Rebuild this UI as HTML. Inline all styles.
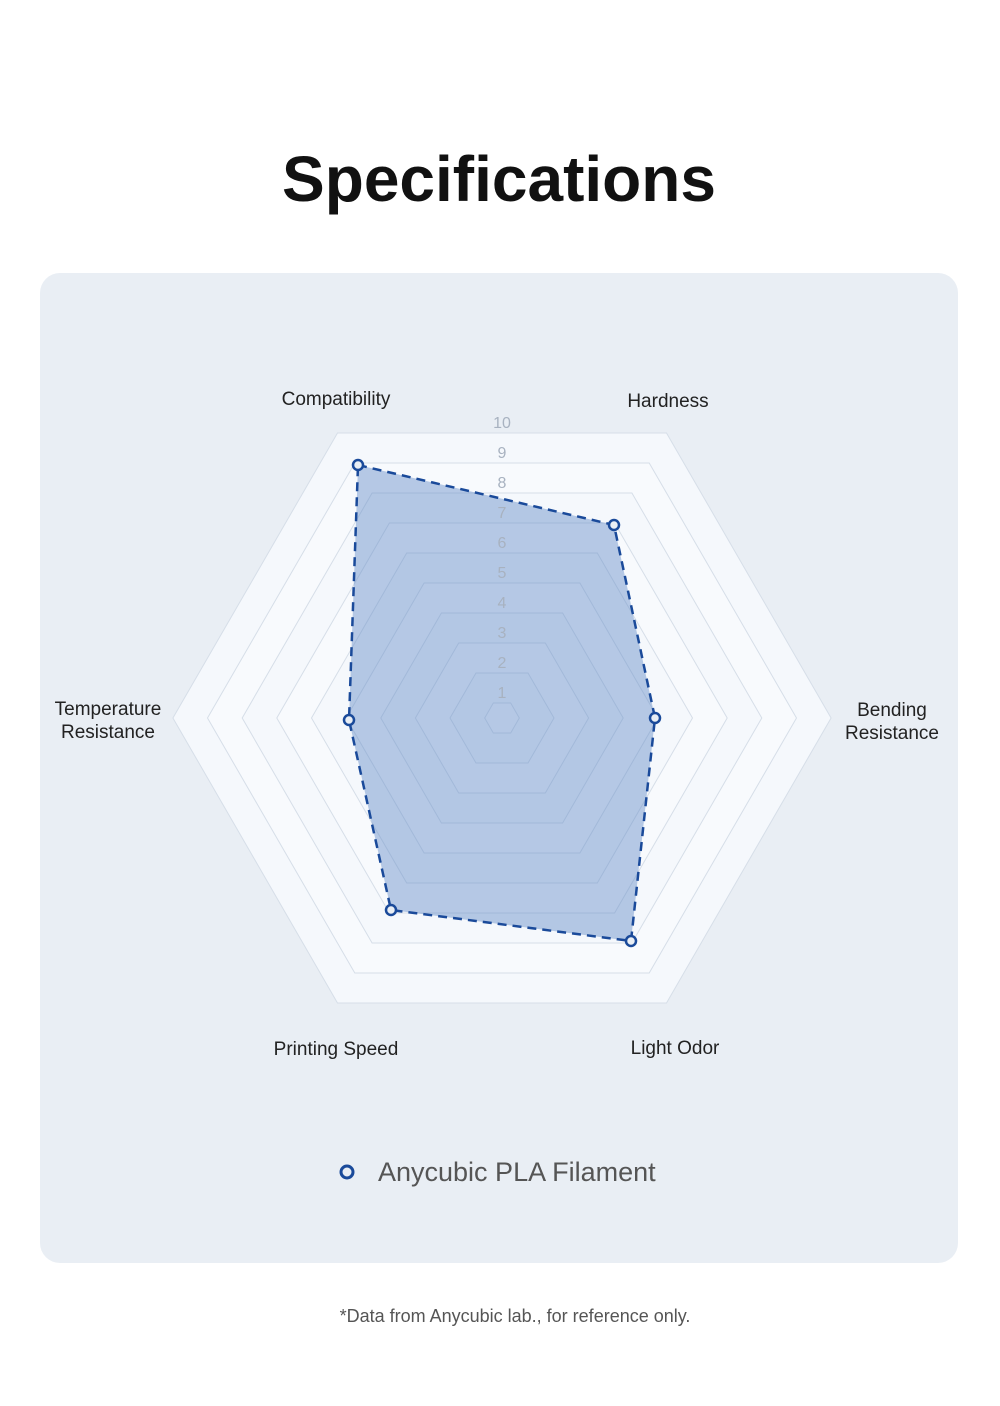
<!DOCTYPE html>
<html><head><meta charset="utf-8"><style>
body{margin:0;background:#fff;width:1000px;height:1401px;overflow:hidden;font-family:"Liberation Sans",sans-serif;}
</style></head><body>
<svg width="1000" height="1401" viewBox="0 0 1000 1401" xmlns="http://www.w3.org/2000/svg" font-family="Liberation Sans, sans-serif">
<text x="499" y="201" text-anchor="middle" font-size="64" font-weight="bold" fill="#111">Specifications</text>
<rect x="40" y="273" width="918" height="990" rx="20" fill="#e9eef4"/>
<g stroke="#d6dee8" stroke-width="1">
<polygon points="831.1,718 666.5,433 337.5,433 172.9,718 337.5,1003 666.5,1003" fill="#f5f8fc"/>
<polygon points="796.5,718 649.2,463 354.8,463 207.5,718 354.8,973 649.2,973" fill="#f8fafd"/>
<polygon points="761.8,718 631.9,493 372.1,493 242.2,718 372.1,943 631.9,943" fill="#f5f8fc"/>
<polygon points="727.2,718 614.6,523 389.4,523 276.8,718 389.4,913 614.6,913" fill="#f8fafd"/>
<polygon points="692.5,718 597.3,553 406.7,553 311.5,718 406.7,883 597.3,883" fill="#f5f8fc"/>
<polygon points="657.9,718 579.9,583 424.1,583 346.1,718 424.1,853 579.9,853" fill="#f8fafd"/>
<polygon points="623.2,718 562.6,613 441.4,613 380.8,718 441.4,823 562.6,823" fill="#f5f8fc"/>
<polygon points="588.6,718 545.3,643 458.7,643 415.4,718 458.7,793 545.3,793" fill="#f8fafd"/>
<polygon points="554,718 528,673 476,673 450,718 476,763 528,763" fill="#f5f8fc"/>
<polygon points="519.3,718 510.7,703 493.3,703 484.7,718 493.3,733 510.7,733" fill="#f8fafd"/>
</g>
<polygon points="358,465 614,525 655,718 631,941 391,910 349,720" fill="rgba(100,140,200,0.45)" stroke="#1a4a9a" stroke-width="2.5" stroke-dasharray="9,6"/>
<g fill="#e9eef4" stroke="#1a4a9a" stroke-width="2.5">
<circle cx="358" cy="465" r="5"/><circle cx="614" cy="525" r="5"/><circle cx="655" cy="718" r="5"/>
<circle cx="631" cy="941" r="5"/><circle cx="391" cy="910" r="5"/><circle cx="349" cy="720" r="5"/>
</g>
<g font-size="16" fill="#a8b2c0" text-anchor="middle">
<text x="502" y="698">1</text><text x="502" y="668">2</text><text x="502" y="638">3</text><text x="502" y="608">4</text><text x="502" y="578">5</text>
<text x="502" y="548">6</text><text x="502" y="518">7</text><text x="502" y="488">8</text><text x="502" y="458">9</text><text x="502" y="428">10</text>
</g>
<g font-size="19" fill="#222" text-anchor="middle">
<text x="336" y="405">Compatibility</text>
<text x="668" y="407">Hardness</text>
<text x="892" y="716">Bending</text><text x="892" y="739">Resistance</text>
<text x="108" y="715">Temperature</text><text x="108" y="738">Resistance</text>
<text x="336" y="1055">Printing Speed</text>
<text x="675" y="1054">Light Odor</text>
</g>
<circle cx="347" cy="1172" r="6" fill="#e9eef4" stroke="#1a4a9a" stroke-width="3"/>
<text x="378" y="1181" font-size="27" fill="#555">Anycubic PLA Filament</text>
<text x="515" y="1322" text-anchor="middle" font-size="18" fill="#555">*Data from Anycubic lab., for reference only.</text>
</svg>
</body></html>
